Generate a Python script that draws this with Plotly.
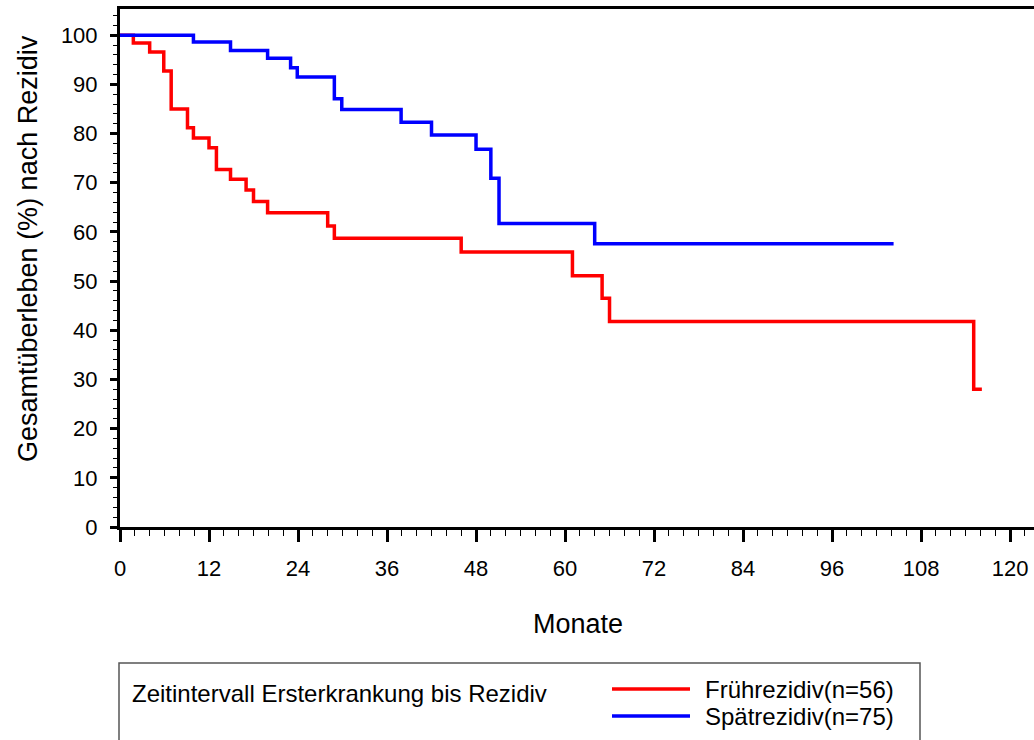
import plotly.graph_objects as go

# ---------------- data ----------------
frueh_months = [0, 1.8, 4.0, 5.9, 6.9, 9.1, 9.9, 12.0, 13.0, 14.9, 17.0, 18.0, 19.9, 28.0, 28.9, 46.0, 61.0, 65.0, 66.0, 115.1, 116.2]
frueh_surv = [100, 98.4, 96.6, 92.7, 85.0, 81.2, 79.1, 77.1, 72.7, 70.7, 68.5, 66.2, 63.9, 61.2, 58.7, 55.9, 51.1, 46.5, 41.8, 28.0, 28.0]

spaet_months = [0, 9.9, 14.9, 19.9, 23.0, 23.9, 28.9, 29.9, 37.9, 42.0, 48.0, 50.0, 51.1, 64.0, 104.3]
spaet_surv = [100, 98.6, 96.9, 95.3, 93.4, 91.5, 87.1, 84.9, 82.3, 79.7, 76.8, 70.9, 61.7, 57.6, 57.6]

series_names = ["Frührezidiv(n=56)", "Spätrezidiv(n=75)"]
series_colors = ["#FF0000", "#0000FF"]
legend_title = "Zeitintervall Ersterkrankung bis Rezidiv"
x_title = "Monate"
y_title = "Gesamtüberleben (%) nach Rezidiv"
x_ticks = [0, 12, 24, 36, 48, 60, 72, 84, 96, 108, 120]
y_ticks = [0, 10, 20, 30, 40, 50, 60, 70, 80, 90, 100]

FONT = "Liberation Sans, Arial, sans-serif"

fig = go.Figure()
for xs, ys, name, col in [(frueh_months, frueh_surv, series_names[0], series_colors[0]),
                          (spaet_months, spaet_surv, series_names[1], series_colors[1])]:
    fig.add_trace(go.Scatter(x=xs, y=ys, mode="lines", line=dict(shape="hv", color=col, width=3.5),
                             name=name, showlegend=False))

W, H = 1034, 740
L, R, T, B = 120, 0, 9, 213
pw, ph = W - L - R, H - T - B

def px2paper_x(px):
    return (px - L) / pw

def px2paper_y(py):
    return (H - B - py) / ph

fig.update_layout(
    width=W, height=H,
    margin=dict(l=L, r=R, t=T, b=B, pad=0),
    paper_bgcolor="white", plot_bgcolor="white",
    font=dict(family=FONT, color="black", size=22),
    showlegend=False,
)
fig.update_xaxes(
    range=[0, pw / 7.417], tickvals=x_ticks, ticktext=[str(v) for v in x_ticks],
    showgrid=False, zeroline=False,
    showline=True, linecolor="black", linewidth=3, mirror=True,
    ticks="outside", ticklen=12, tickwidth=2.5, tickcolor="black",
    minor=dict(dtick=2, ticks="outside", ticklen=6, tickwidth=1.2, tickcolor="black", showgrid=False),
    tickfont=dict(size=22, family=FONT), ticklabelstandoff=8,
)
fig.update_yaxes(
    range=[0, ph / 4.918], tickvals=y_ticks, ticktext=[str(v) for v in y_ticks],
    showgrid=False, zeroline=False,
    showline=True, linecolor="black", linewidth=3,
    ticks="outside", ticklen=7, tickwidth=2.5, tickcolor="black",
    minor=dict(dtick=2, ticks="outside", ticklen=4, tickwidth=1.2, tickcolor="black", showgrid=False),
    tickfont=dict(size=22, family=FONT), ticklabelstandoff=8,
)

ann = []
ann.append(dict(text=x_title, x=px2paper_x(578), y=px2paper_y(624), xref="paper", yref="paper",
                xanchor="center", yanchor="middle", showarrow=False, font=dict(size=27, family=FONT)))
ann.append(dict(text=y_title, x=px2paper_x(28), y=px2paper_y(249), xref="paper", yref="paper",
                xanchor="center", yanchor="middle", textangle=-90, showarrow=False,
                font=dict(size=27, family=FONT)))
ann.append(dict(text=legend_title, x=px2paper_x(130), y=px2paper_y(693), xref="paper", yref="paper",
                xanchor="left", yanchor="middle", showarrow=False, font=dict(size=24, family=FONT)))

shapes = [dict(type="rect", xref="paper", yref="paper", x0=px2paper_x(119), x1=px2paper_x(920),
               y0=px2paper_y(663), y1=px2paper_y(760), line=dict(color="#555555", width=1.5),
               fillcolor="rgba(0,0,0,0)", layer="above")]
for i, (name, col) in enumerate(zip(series_names, series_colors)):
    yy = [689, 716][i]
    shapes.append(dict(type="line", xref="paper", yref="paper", x0=px2paper_x(612), x1=px2paper_x(690),
                       y0=px2paper_y(yy), y1=px2paper_y(yy), line=dict(color=col, width=3.5)))
    ann.append(dict(text=name, x=px2paper_x(703), y=px2paper_y(yy), xref="paper", yref="paper",
                    xanchor="left", yanchor="middle", showarrow=False, font=dict(size=24, family=FONT)))

fig.update_layout(annotations=ann, shapes=shapes)
fig.write_html("out.html")
